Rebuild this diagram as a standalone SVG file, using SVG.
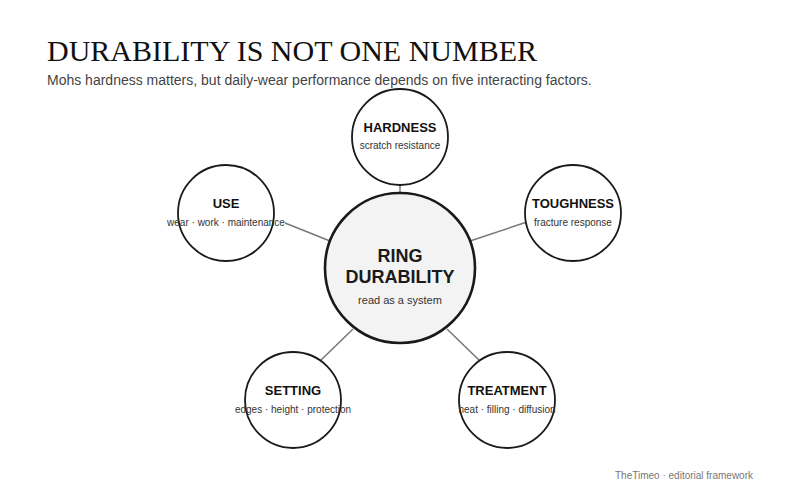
<svg xmlns="http://www.w3.org/2000/svg" width="800" height="500" viewBox="0 0 800 500">
<style>
.title{font-family:"Liberation Serif",serif;font-size:30px;fill:#111}
.sub{font-family:"Liberation Sans",sans-serif;font-size:14px;fill:#444}
.sat{fill:#fff;stroke:#1a1a1a;stroke-width:1.8}
.hub{fill:#f3f3f3;stroke:#1a1a1a;stroke-width:2.6}
.lbl{font-family:"Liberation Sans",sans-serif;font-size:13px;font-weight:bold;fill:#111;text-anchor:middle}
.desc{font-family:"Liberation Sans",sans-serif;font-size:10px;fill:#333;text-anchor:middle}
.hubl{font-family:"Liberation Sans",sans-serif;font-size:18px;font-weight:bold;fill:#1a1a1a;text-anchor:middle}
.hubd{font-family:"Liberation Sans",sans-serif;font-size:11px;fill:#333;text-anchor:middle}
.con{stroke:#777;stroke-width:1.5;fill:none}
.foot{font-family:"Liberation Sans",sans-serif;font-size:10px;fill:#777}
</style>
<rect width="800" height="500" fill="#fff"/>
<text class="title" x="47" y="61">DURABILITY IS NOT ONE NUMBER</text>
<text class="sub" x="47" y="85">Mohs hardness matters, but daily-wear performance depends on five interacting factors.</text>
<g id="connectors">
<line class="con" x1="400" y1="186" x2="400" y2="194"/>
<line class="con" x1="285" y1="223" x2="330" y2="241"/>
<line class="con" x1="470" y1="241" x2="527" y2="222"/>
<line class="con" x1="353" y1="329" x2="319" y2="362"/>
<line class="con" x1="447" y1="329" x2="481" y2="362"/>
</g>
<g id="hub">
<circle class="hub" cx="400" cy="268" r="75"/>
<text class="hubl" x="400" y="262">RING</text>
<text class="hubl" x="400" y="283">DURABILITY</text>
<text class="hubd" x="400" y="304">read as a system</text>
</g>
<g id="hardness">
<circle class="sat" cx="400" cy="137" r="48"/>
<text class="lbl" x="400" y="132">HARDNESS</text>
<text class="desc" x="400" y="149">scratch resistance</text>
</g>
<g id="use">
<circle class="sat" cx="226" cy="213" r="48"/>
<text class="lbl" x="226" y="208">USE</text>
<text class="desc" x="226" y="226">wear · work · maintenance</text>
</g>
<g id="toughness">
<circle class="sat" cx="573" cy="213" r="48"/>
<text class="lbl" x="573" y="208">TOUGHNESS</text>
<text class="desc" x="573" y="226">fracture response</text>
</g>
<g id="setting">
<circle class="sat" cx="293" cy="400" r="48"/>
<text class="lbl" x="293" y="395">SETTING</text>
<text class="desc" x="293" y="413">edges · height · protection</text>
</g>
<g id="treatment">
<circle class="sat" cx="507" cy="400" r="48"/>
<text class="lbl" x="507" y="395">TREATMENT</text>
<text class="desc" x="507" y="413">heat · filling · diffusion</text>
</g>
<text class="foot" x="615" y="479">TheTimeo · editorial framework</text>
</svg>
